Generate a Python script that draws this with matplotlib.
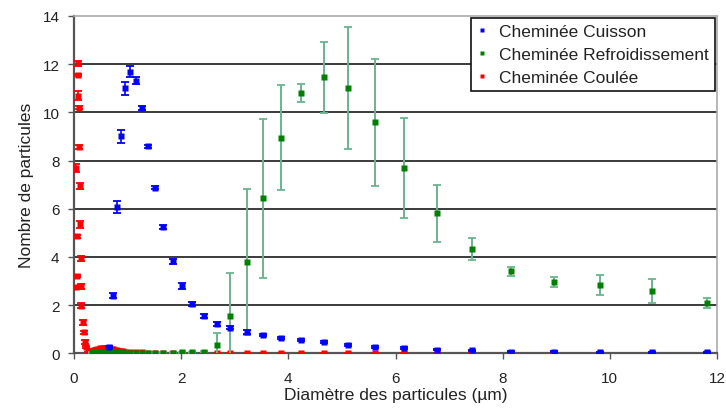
import matplotlib
matplotlib.use("Agg")
import matplotlib.pyplot as plt
import numpy as np

# Cheminée Cuisson
cuisson_x = [0.66, 0.73, 0.80, 0.87, 0.96, 1.04, 1.16, 1.26, 1.39, 1.52, 1.67, 1.84,
             2.01, 2.21, 2.43, 2.67, 2.92, 3.22, 3.52, 3.87, 4.24, 4.66, 5.11, 5.61,
             6.15, 6.77, 7.43, 8.16, 8.95, 9.82, 10.79, 11.81]
cuisson_y = [0.25, 2.39, 6.06, 9.00, 11.00, 11.69, 11.31, 10.18, 8.60, 6.87, 5.23, 3.82,
             2.79, 2.05, 1.56, 1.22, 1.06, 0.90, 0.77, 0.65, 0.56, 0.46, 0.34, 0.27,
             0.22, 0.15, 0.12, 0.07, 0.07, 0.04, 0.04, 0.04]
cuisson_err = [0.05, 0.11, 0.25, 0.26, 0.27, 0.22, 0.15, 0.08, 0.06, 0.07, 0.09, 0.11,
               0.12, 0.10, 0.09, 0.07, 0.07, 0.08, 0.04, 0.04, 0.05, 0.03, 0.03, 0.04,
               0.03, 0.03, 0.03, 0.03, 0.02, 0.02, 0.02, 0.02]

# Cheminée Refroidissement
refroid_x = [0.34, 0.37, 0.40, 0.43, 0.46, 0.49, 0.52, 0.55, 0.58, 0.61, 0.64, 0.67,
             0.70, 0.73, 0.76, 0.80, 0.83, 0.87, 0.91, 0.96, 1.04, 1.16, 1.26, 1.39,
             1.52, 1.67, 1.84, 2.01, 2.21, 2.43, 2.67, 2.92, 3.22, 3.52, 3.87, 4.24,
             4.66, 5.11, 5.61, 6.15, 6.77, 7.43, 8.16, 8.95, 9.82, 10.79, 11.81]
refroid_y = [0.03, 0.04, 0.04, 0.05, 0.05, 0.05, 0.05, 0.05, 0.05, 0.05, 0.05, 0.04,
             0.04, 0.04, 0.04, 0.04, 0.03, 0.03, 0.03, 0.03, 0.03, 0.03, 0.03, 0.03,
             0.03, 0.03, 0.03, 0.04, 0.04, 0.07, 0.36, 1.56, 3.78, 6.43, 8.95, 10.79,
             11.45, 11.00, 9.58, 7.69, 5.81, 4.34, 3.40, 2.96, 2.83, 2.60, 2.09]
refroid_err = [0.01, 0.01, 0.01, 0.01, 0.01, 0.01, 0.01, 0.01, 0.01, 0.01, 0.01, 0.01,
               0.01, 0.01, 0.01, 0.01, 0.01, 0.01, 0.01, 0.01, 0.01, 0.01, 0.01, 0.01,
               0.01, 0.01, 0.01, 0.01, 0.02, 0.03, 0.47, 1.77, 3.03, 3.30, 2.19, 0.37,
               1.48, 2.54, 2.63, 2.07, 1.18, 0.45, 0.18, 0.21, 0.40, 0.50, 0.22]

# Cheminée Coulée
coulee_x = [0.037, 0.043, 0.062, 0.062, 0.069, 0.069, 0.069, 0.093, 0.093, 0.112,
            0.112, 0.125, 0.136, 0.136, 0.162, 0.187, 0.205, 0.224, 0.256, 0.299,
            0.34, 0.37, 0.40, 0.43, 0.46, 0.49, 0.52, 0.55, 0.58, 0.61, 0.64, 0.67,
            0.70, 0.73, 0.76, 0.80, 0.83, 0.87, 0.91, 0.96, 1.04, 1.16, 1.26, 1.39,
            1.52, 1.67, 1.84, 2.01, 2.21, 2.43, 2.67, 2.92, 3.22, 3.52, 3.87, 4.24,
            4.66, 5.11, 5.61, 6.15, 6.77, 7.43, 8.16, 8.95, 9.82, 10.79, 11.81]
coulee_y = [2.75, 7.69, 4.85, 3.22, 12.03, 11.56, 10.70, 10.20, 8.55, 6.94,
            5.36, 3.95, 2.78, 1.98, 1.29, 0.87, 0.48, 0.25, 0.11, 0.04,
            0.08, 0.12, 0.15, 0.17, 0.19, 0.20, 0.20, 0.21, 0.20, 0.20, 0.19, 0.18,
            0.17, 0.16, 0.14, 0.13, 0.11, 0.10, 0.08, 0.07, 0.06, 0.05, 0.04, 0.03,
            0.02, 0.01, 0.01, 0.01, 0.01, 0.01, 0.01, 0.01, 0.01, 0.01, 0.01, 0.01,
            0.01, 0.01, 0.01, 0.01, 0.01, 0.01, 0.01, 0.01, 0.01, 0.01, 0.01]
coulee_err = [0.05, 0.15, 0.07, 0.05, 0.11, 0.05, 0.19, 0.05, 0.08, 0.12,
              0.15, 0.10, 0.10, 0.10, 0.10, 0.07, 0.08, 0.05, 0.05, 0.03,
              0.03, 0.03, 0.03, 0.03, 0.03, 0.03, 0.03, 0.03, 0.03, 0.03, 0.03, 0.03,
              0.03, 0.03, 0.03, 0.03, 0.03, 0.03, 0.03, 0.03, 0.02, 0.02, 0.02, 0.02,
              0.01, 0.01, 0.01, 0.01, 0.01, 0.01, 0.01, 0.01, 0.01, 0.01, 0.01, 0.01,
              0.01, 0.01, 0.01, 0.01, 0.01, 0.01, 0.01, 0.01, 0.01, 0.01, 0.01]

x_ticks = [0, 2, 4, 6, 8, 10, 12]
y_ticks = [0, 2, 4, 6, 8, 10, 12, 14]

plt.rcParams["font.family"] = ["Liberation Sans", "DejaVu Sans"]

fig = plt.figure(figsize=(7.26, 4.10), dpi=100)
ax = fig.add_axes([74 / 726, 1 - 354.3 / 410, 643 / 726, 337.3 / 410])

ax.errorbar(coulee_x, coulee_y, yerr=coulee_err, fmt="s", color="#ff0000",
            mfc="#ff0000", mec="none",
            ecolor="#ff0000", elinewidth=1.2, capsize=2.8, capthick=1.3,
            markersize=4, zorder=3, label="Cheminée Coulée")
ax.errorbar(refroid_x, refroid_y, yerr=refroid_err, fmt="s", color="#008000",
            mfc="#008000", mec="none",
            ecolor="#6ab48e", elinewidth=1.4, capsize=2.8, capthick=1.3,
            markersize=4, zorder=4, label="Cheminée Refroidissement")
ax.errorbar(cuisson_x, cuisson_y, yerr=cuisson_err, fmt="s", color="#0000ff",
            mfc="#0000ff", mec="none",
            ecolor="#0000ff", elinewidth=1.2, capsize=2.8, capthick=1.3,
            markersize=4, zorder=5, label="Cheminée Cuisson")

ax.set_xlim(0, 12)
ax.set_ylim(0, 14)
ax.set_xticks(x_ticks)
ax.set_yticks(y_ticks)
ax.tick_params(axis="both", direction="out", length=4.5, width=1, color="#555555",
               labelsize=11, labelcolor="#222222")
ax.tick_params(axis="x", pad=8)
ax.tick_params(axis="y", pad=6)

for y in y_ticks[1:-1]:
    ax.axhline(y, color="#3a3a3a", lw=1.4, zorder=1)

ax.spines["left"].set_color("#555555")
ax.spines["left"].set_linewidth(1.6)
ax.spines["bottom"].set_color("#555555")
ax.spines["bottom"].set_linewidth(1.6)
ax.spines["top"].set_color("#aaaaaa")
ax.spines["top"].set_linewidth(1.2)
ax.spines["right"].set_color("#aaaaaa")
ax.spines["right"].set_linewidth(1.2)

ax.set_xlabel("Diamètre des particules (µm)", fontsize=12.5, color="#222222", va="top")
ax.xaxis.set_label_coords(0.5, -0.1)
ax.set_ylabel("Nombre de particules", fontsize=12.5, color="#222222")
ax.yaxis.set_label_coords(-0.062, 0.5)

handles, labels = ax.get_legend_handles_labels()
order = [2, 1, 0]
leg = ax.legend([handles[i][0] for i in order], [labels[i] for i in order],
                loc="upper right", bbox_to_anchor=(1.0, 1.0), borderaxespad=0.1,
                fontsize=12.5, handlelength=0.6, handletextpad=0.7, labelspacing=0.45,
                borderpad=0.35, fancybox=False, framealpha=1, edgecolor="#111111",
                markerscale=0.75)
leg.get_frame().set_linewidth(1.2)
for t in leg.get_texts():
    t.set_color("#222222")

fig.savefig("out.png", dpi=100)
